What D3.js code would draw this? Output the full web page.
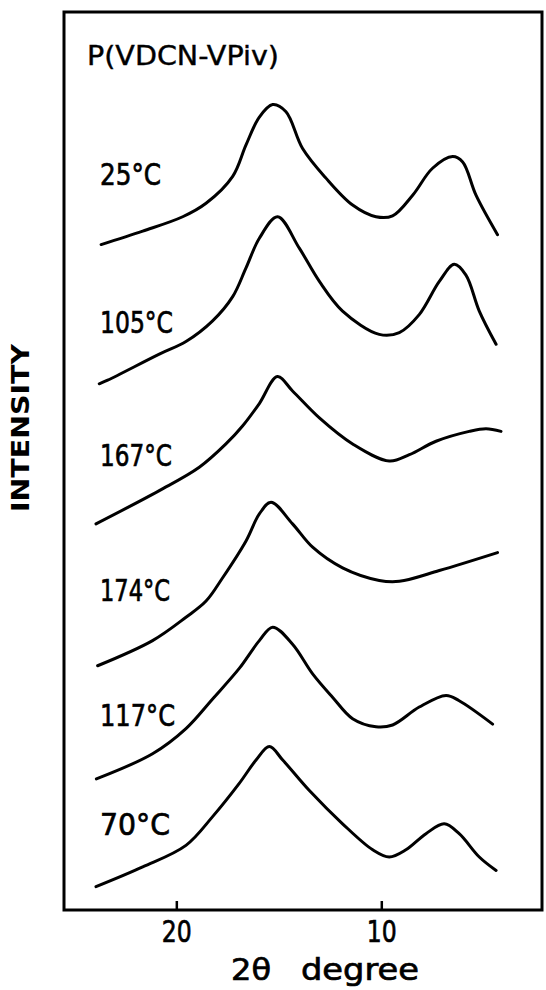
<!DOCTYPE html>
<html>
<head>
<meta charset="utf-8">
<script src="https://cdn.jsdelivr.net/npm/d3@7"></script>
<style>
  body { margin: 0; background: #fff; }
  svg text { font-family: "DejaVu Sans", sans-serif; fill: #000; stroke: #000; stroke-width: 0.7px; }
  .trace { fill: none; stroke: #000; stroke-width: 3; stroke-linecap: round; stroke-linejoin: round; }
</style>
</head>
<body>
<svg id="chart" width="546" height="990"></svg>
<script>
// temperature labels, top to bottom
const temps = ['25°C', '105°C', '167°C', '174°C', '117°C', '70°C'];

// traces: [2theta (deg), stacked intensity (arb.)]
const t25 = [[23.67,74.1],[21.64,75.6],[19.69,77.2],[18.55,78.7],[17.25,81.7],[16.60,85.2],[15.95,88.3],[15.30,89.7],[14.65,88.9],[13.84,84.8],[12.70,81.5],[11.40,78.5],[10.26,77.2],[9.45,77.3],[8.47,79.6],[7.50,82.6],[6.52,83.9],[6.03,83.3],[5.38,79.6],[4.33,75.2]];
const t105 = [[23.76,58.6],[23.35,59.0],[20.83,61.9],[19.53,63.3],[18.23,65.6],[17.25,68.3],[16.60,71.5],[15.95,74.8],[15.06,77.2],[14.00,73.7],[13.02,70.0],[11.89,66.7],[10.10,64.1],[9.12,64.3],[8.15,66.3],[7.17,70.0],[6.44,71.9],[5.87,70.7],[5.22,66.7],[4.40,63.0]];
const t167 = [[23.92,43.0],[20.83,46.7],[18.88,49.3],[17.58,51.9],[16.77,53.9],[15.95,56.4],[15.07,59.4],[14.33,57.8],[13.02,54.8],[11.40,51.9],[9.61,50.0],[8.63,50.7],[7.33,52.2],[5.71,53.3],[4.89,53.6],[4.16,53.3]];
const t174 = [[23.84,27.2],[21.16,30.0],[19.53,32.6],[18.55,34.4],[17.74,37.0],[16.60,41.1],[15.95,44.1],[15.38,45.4],[14.33,43.0],[13.35,40.4],[11.89,38.1],[10.10,36.7],[9.12,36.6],[7.17,37.8],[4.33,39.8]];
const t117 = [[23.90,14.6],[21.16,17.4],[19.53,20.2],[18.23,23.5],[16.93,26.9],[15.95,30.0],[15.30,31.5],[14.33,29.6],[13.35,26.3],[12.38,23.7],[11.40,21.3],[10.26,20.4],[9.45,20.6],[8.15,22.6],[6.84,23.9],[6.20,23.3],[4.57,20.7]];
const t70 = [[23.92,2.6],[21.64,4.8],[19.53,7.2],[18.23,10.4],[16.93,14.1],[16.11,16.7],[15.46,18.2],[14.81,16.7],[13.51,13.3],[11.89,9.6],[10.42,6.7],[9.61,5.9],[8.80,6.7],[7.82,8.5],[6.93,9.6],[6.20,8.5],[5.22,5.9],[4.40,4.4]];
const traces = [t25, t105, t167, t174, t117, t70];

const xTicks = [20, 10];

let svg = d3.select('#chart');
let frame = {left: 64, right: 542, top: 12, bottom: 910};

let x = d3.scaleLinear().domain([25.48, 2.16]).range([frame.left, frame.right]);
let y = d3.scaleLinear().domain([0, 100]).range([frame.bottom, frame.top]);

// frame
svg.append('rect')
    .attr('x', frame.left).attr('y', frame.top)
    .attr('width', frame.right - frame.left).attr('height', frame.bottom - frame.top)
    .attr('fill', 'none').attr('stroke', '#000').attr('stroke-width', 3);

// bottom axis, ticks pointing inward
let axis = svg.append('g')
    .attr('transform', 'translate(0,' + frame.bottom + ')')
    .call(d3.axisBottom(x).tickValues(xTicks).tickSize(-9).tickSizeOuter(0).tickPadding(11));
axis.select('.domain').remove();
axis.selectAll('.tick line').attr('stroke', '#000').attr('stroke-width', 2.5);
axis.selectAll('.tick text')
    .style('font-size', '30px')
    .attr('textLength', 30).attr('lengthAdjust', 'spacingAndGlyphs');

// traces
let line = d3.line()
    .x(function(d){ return x(d[0]); })
    .y(function(d){ return y(d[1]); })
    .curve(d3.curveCatmullRom.alpha(0.5));

svg.selectAll('.trace')
    .data(traces)
  .enter().append('path')
    .attr('class', 'trace')
    .attr('d', line);

// temperature labels (y in intensity units)
const labelY = [81.9, 65.5, 50.7, 35.6, 21.7, 9.6];
const labelW = [61, 73, 72, 70, 75, 70];
svg.selectAll('.temp')
    .data(temps)
  .enter().append('text')
    .attr('class', 'temp')
    .attr('x', 100)
    .attr('y', function(d, i){ return y(labelY[i]); })
    .attr('dy', '0.36em')
    .attr('textLength', function(d, i){ return labelW[i]; })
    .attr('lengthAdjust', 'spacingAndGlyphs')
    .style('font-size', '30px')
    .text(function(d){ return d; });

// title
svg.append('text')
    .attr('x', 87).attr('y', 56).attr('dy', '0.36em')
    .attr('textLength', 192).attr('lengthAdjust', 'spacingAndGlyphs')
    .style('font-size', '26px').style('stroke-width', '0.4px')
    .text('P(VDCN-VPiv)');

// axis titles
svg.append('text')
    .attr('x', 251).attr('y', 969).attr('dy', '0.36em')
    .attr('text-anchor', 'middle')
    .attr('textLength', 40).attr('lengthAdjust', 'spacingAndGlyphs')
    .style('font-size', '30px')
    .text('2θ');
svg.append('text')
    .attr('x', 360).attr('y', 969).attr('dy', '0.36em')
    .attr('text-anchor', 'middle')
    .attr('textLength', 118).attr('lengthAdjust', 'spacingAndGlyphs')
    .style('font-size', '30px')
    .text('degree');

svg.append('text')
    .attr('transform', 'translate(20,428) rotate(-90)')
    .attr('text-anchor', 'middle')
    .attr('dy', '0.36em')
    .attr('textLength', 168).attr('lengthAdjust', 'spacingAndGlyphs')
    .style('font-size', '24px').style('font-weight', 'bold').style('stroke-width', '0')
    .text('INTENSITY');
</script>
</body>
</html>
